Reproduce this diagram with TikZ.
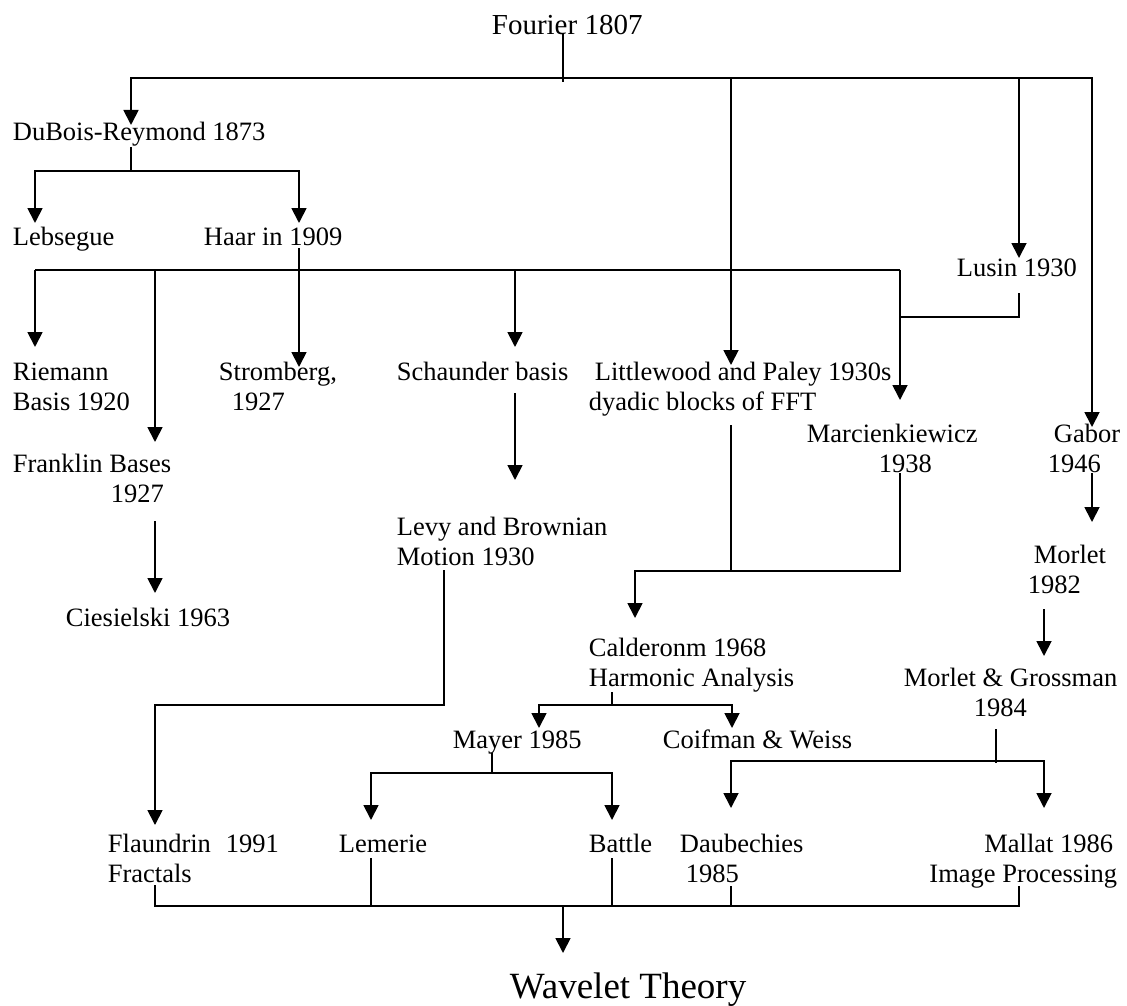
\documentclass[tikz,border=0pt]{standalone}
\usepackage{fontspec}
\setmainfont{Liberation Serif}
\usetikzlibrary{arrows.meta}

\tikzset{
  item/.style={inner sep=0pt, anchor=base west, align=left, font=\fontsize{26.5}{30}\selectfont},
}

\begin{document}
\begin{tikzpicture}[x=1pt, y=-1pt, line width=1.8pt, >={Triangle[length=15pt, width=15pt]}]
    \useasboundingbox (0,0) rectangle (1127,1006);

    % Nodes (two-line nodes sit on their last line)
    \node[item, font=\fontsize{29}{33}\selectfont] (fourier) at (491,35) {Fourier 1807};
    \node[item] (dubois) at (12,141) {DuBois-Reymond 1873};
    \node[item] (lebsegue) at (12,245) {Lebsegue};
    \node[item] (haar) at (203,245) {Haar in 1909};
    \node[item] (lusin) at (956,276) {Lusin 1930};
    \node[item] (riemann) at (12,410) {Riemann\\Basis 1920};
    \node[item] (stromberg) at (218,410) {Stromberg,\\\hspace*{13pt}1927};
    \node[item] (schaunder) at (396,380) {Schaunder basis};
    \node[item] (littlewood) at (588,410) {\hspace*{6pt}Littlewood and Paley 1930s\\dyadic blocks of FFT};
    \node[item] (marcien) at (806,472) {Marcienkiewicz\\\hspace*{72pt}1938};
    \node[item] (gabor) at (1047,472) {\hspace*{6pt}Gabor\\1946};
    \node[item] (franklin) at (12,502) {Franklin Bases\\\hspace*{98pt}1927};
    \node[item] (levy) at (396,565) {Levy and Brownian\\Motion 1930};
    \node[item] (morlet) at (1027,593) {\hspace*{6pt}Morlet\\1982};
    \node[item] (ciesielski) at (65,626) {Ciesielski 1963};
    \node[item] (calderon) at (588,686) {Calderonm 1968\\Harmonic Analysis};
    \node[item] (grossman) at (903,716) {Morlet \& Grossman\\\hspace*{70pt}1984};
    \node[item] (mayer) at (452,748) {Mayer 1985};
    \node[item] (coifman) at (662,748) {Coifman \& Weiss};
    \node[item] (flaundrin) at (107,882) {Flaundrin\hspace*{15pt}1991\\Fractals};
    \node[item] (lemerie) at (338,852) {Lemerie};
    \node[item] (battle) at (588,852) {Battle};
    \node[item] (daubechies) at (679,882) {Daubechies\\\hspace*{6pt}1985};
    \node[item, anchor=base east, align=right] (mallat) at (1118,882) {Mallat 1986\hspace*{4pt}\\Image Processing};
    \node[item, font=\fontsize{37}{42}\selectfont] (wavelet) at (509,998) {Wavelet Theory};

    % Bus points
    \coordinate (fbus) at (563,78);
    \coordinate (dbus) at (131,171);
    \coordinate (hbus-w) at (35,270);
    \coordinate (hbus-e) at (900,270);
    \coordinate (lbus) at (900,317);
    \coordinate (cbus) at (731,571);
    \coordinate (calbus) at (612,705);
    \coordinate (mbus) at (492,773);
    \coordinate (gbus) at (996,761);
    \coordinate (wbus) at (563,906);

    % Arrow ends
    \coordinate (lw-in) at ([xshift=143pt, yshift=45pt]littlewood.base west);
    \coordinate (lusin-in) at ([xshift=63pt, yshift=18pt]lusin.base west);
    \coordinate (fr-in) at ([xshift=143pt, yshift=60pt]franklin.base west);
    \coordinate (sch-in) at ([xshift=119pt, yshift=33pt]schaunder.base west);
    \coordinate (lem-out) at ([xshift=33pt, yshift=-6pt]lemerie.base west);
    \coordinate (bat-out) at ([xshift=24pt, yshift=-6pt]battle.base west);
    \coordinate (dau-out) at ([xshift=52pt, yshift=-4pt]daubechies.base west);

    % Fourier
    \draw ([xshift=72pt, yshift=2pt]fourier.base west) -- ([yshift=-4pt]fbus);
    \draw[->] (fbus) -| ([xshift=119pt, yshift=16pt]dubois.base west);
    \draw[->] (fbus) -| ([xshift=45pt, yshift=45pt]gabor.base west);
    \draw[->] (fbus -| lw-in) -- (lw-in);
    \draw[->] (fbus -| lusin-in) -- (lusin-in);

    % DuBois-Reymond
    \draw ([xshift=119pt, yshift=-6pt]dubois.base west) -- (dbus);
    \draw[->] (dbus) -| ([xshift=23pt, yshift=22pt]lebsegue.base west);
    \draw[->] (dbus) -| ([xshift=96pt, yshift=22pt]haar.base west);

    % Haar
    \draw[->] ([xshift=96pt, yshift=-3pt]haar.base west) -- ([xshift=81pt, yshift=43pt]stromberg.base west);
    \draw (hbus-w) -- (hbus-e);
    \draw[->] (hbus-w) -- ([xshift=23pt, yshift=63pt]riemann.base west);
    \draw[->] (hbus-w -| fr-in) -- (fr-in);
    \draw[->] (hbus-w -| sch-in) -- (sch-in);
    \draw[->] (hbus-e) -- ([xshift=94pt, yshift=72pt]marcien.base west);
    \draw ([yshift=-17pt]lusin-in |- lusin.base) |- (lbus);

    % Second generation
    \draw[->] ([xshift=143pt, yshift=-19pt]franklin.base west) -- ([xshift=90pt, yshift=33pt]ciesielski.base west);
    \draw[->] ([xshift=119pt, yshift=-13pt]schaunder.base west) -- ([xshift=119pt, yshift=85pt]levy.base west);
    \draw[->] ([xshift=48pt, yshift=-5pt]levy.base west) -- ++(0,135) -| ([xshift=48pt, yshift=57pt]flaundrin.base west);
    \draw ([xshift=143pt, yshift=-15pt]littlewood.base west) -- (cbus);
    \draw[->] ([xshift=94pt, yshift=-1pt]marcien.base west) |- (cbus) -| ([xshift=47pt, yshift=68pt]calderon.base west);
    \draw[->] ([xshift=45pt, yshift=-1pt]gabor.base west) -- ([xshift=65pt, yshift=71pt]morlet.base west);
    \draw[->] ([xshift=17pt, yshift=-16pt]morlet.base west) -- ([xshift=141pt, yshift=60pt]grossman.base west);

    % Calderon
    \draw ([xshift=24pt, yshift=-6pt]calderon.base west) -- (calbus);
    \draw[->] (calbus) -| ([xshift=87pt, yshift=20pt]mayer.base west);
    \draw[->] (calbus) -| ([xshift=70pt, yshift=20pt]coifman.base west);

    % Mayer
    \draw ([xshift=40pt, yshift=-5pt]mayer.base west) -- (mbus);
    \draw[->] (mbus) -| ([xshift=33pt, yshift=32pt]lemerie.base west);
    \draw[->] (mbus) -| ([xshift=24pt, yshift=32pt]battle.base west);

    % Morlet & Grossman
    \draw ([xshift=93pt, yshift=-13pt]grossman.base west) -- ([yshift=-2pt]gbus);
    \draw[->] (gbus) -| ([xshift=52pt, yshift=74pt]daubechies.base west);
    \draw[->] (gbus) -| ([xshift=-74pt, yshift=74pt]mallat.base east);

    % Wavelet Theory
    \draw ([xshift=48pt, yshift=-3pt]flaundrin.base west) |- (wbus);
    \draw ([xshift=-99pt, yshift=-4pt]mallat.base east) |- (wbus);
    \draw (lem-out) -- (lem-out |- wbus);
    \draw (bat-out) -- (bat-out |- wbus);
    \draw (dau-out) -- (dau-out |- wbus);
    \draw[->] (wbus) -- ([xshift=54pt, yshift=45pt]wavelet.base west);
\end{tikzpicture}
\end{document}
